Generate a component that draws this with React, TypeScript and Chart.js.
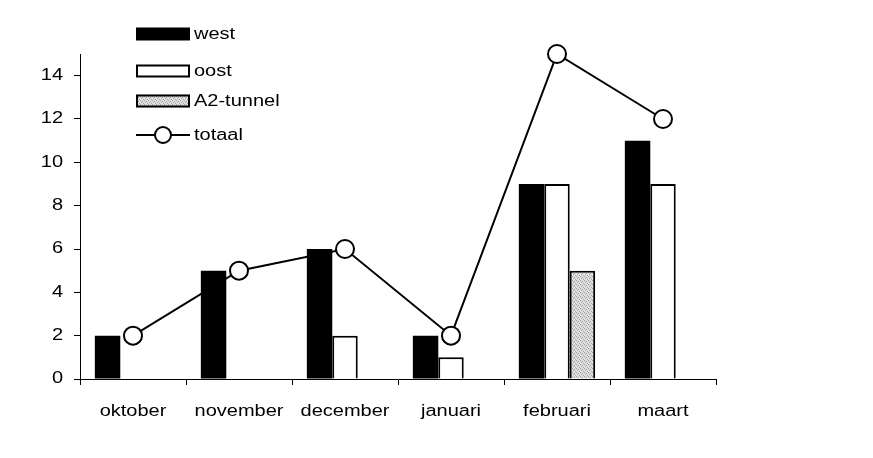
import React, { useEffect, useRef } from "react";
import { Chart, registerables } from "chart.js";

Chart.register(...registerables);

const categories = ["oktober", "november", "december", "januari", "februari", "maart"];
const westValues = [2, 5, 6, 2, 9, 11];
const oostValues = [0, 0, 2, 1, 9, 9];
const tunnelValues = [0, 0, 0, 0, 5, 0];
const totaalValues = [2, 5, 6, 2, 15, 12];
const seriesLabels = ["west", "oost", "A2-tunnel", "totaal"];

const FONT = "'Liberation Sans', Arial, sans-serif";
const TEXT_STRETCH = 1.25;

function makePattern(): CanvasPattern | string {
  const c = document.createElement("canvas");
  c.width = 4;
  c.height = 4;
  const g = c.getContext("2d");
  if (!g) return "#c0c0c0";
  g.fillStyle = "#dcdcdc";
  g.fillRect(0, 0, 4, 4);
  g.fillStyle = "#a0a0a0";
  g.fillRect(0, 0, 1, 1);
  g.fillRect(2, 1, 1, 1);
  g.fillRect(1, 2, 1, 1);
  g.fillRect(3, 3, 1, 1);
  g.fillStyle = "#f0f0f0";
  g.fillRect(2, 3, 1, 1);
  g.fillRect(0, 2, 1, 1);
  const p = g.createPattern(c, "repeat");
  return p || "#c0c0c0";
}

function drawFrame(ctx: CanvasRenderingContext2D, w: number, h: number) {
  ctx.save();
  ctx.setTransform(1, 0, 0, 1, 0, 0);
  ctx.fillStyle = "#000000";
  ctx.fillRect(4, 3, w - 4, 4);
  ctx.fillRect(4, 3, 4, h - 3);
  ctx.restore();
}

export default function App() {
  const ref = useRef<HTMLCanvasElement | null>(null);

  useEffect(() => {
    if (!ref.current) return;
    const pattern = makePattern();

    const ctx0 = ref.current.getContext("2d") as CanvasRenderingContext2D;
    const origFill = ctx0.fillText.bind(ctx0);
    (ctx0 as any).fillText = (text: string, x: number, y: number, maxWidth?: number) => {
      ctx0.save();
      ctx0.translate(x, y);
      ctx0.scale(TEXT_STRETCH, 1);
      if (maxWidth !== undefined) origFill(text, 0, 0, maxWidth / TEXT_STRETCH);
      else origFill(text, 0, 0);
      ctx0.restore();
    };

    const framePlugin = {
      id: "pageFrame",
      beforeDraw(chart: any) {
        drawFrame(chart.ctx, chart.width, chart.height);
      },
      afterDraw(chart: any) {
        drawFrame(chart.ctx, chart.width, chart.height);
      },
    };

    const legendPlugin = {
      id: "customLegend",
      afterDraw(chart: any) {
        const ctx = chart.ctx as CanvasRenderingContext2D;
        const x0 = 136;
        const w = 54;
        const h = 13;
        const ys = [34, 71, 101, 135];
        ctx.save();
        ctx.fillStyle = "#000";
        ctx.fillRect(x0, ys[0] - h / 2, w, h);
        ctx.fillStyle = "#fff";
        ctx.fillRect(x0, ys[1] - h / 2, w, h);
        ctx.lineWidth = 2;
        ctx.strokeStyle = "#000";
        ctx.strokeRect(x0 + 1, ys[1] - h / 2 + 1, w - 2, h - 2);
        ctx.fillStyle = pattern as any;
        ctx.fillRect(x0, ys[2] - h / 2, w, h);
        ctx.strokeRect(x0 + 1, ys[2] - h / 2 + 1, w - 2, h - 2);
        ctx.beginPath();
        ctx.moveTo(x0, ys[3]);
        ctx.lineTo(x0 + w, ys[3]);
        ctx.stroke();
        ctx.beginPath();
        ctx.arc(x0 + w / 2, ys[3], 8, 0, Math.PI * 2);
        ctx.fillStyle = "#fff";
        ctx.fill();
        ctx.stroke();
        ctx.fillStyle = "#000";
        ctx.font = `16px ${FONT}`;
        ctx.textBaseline = "middle";
        ctx.textAlign = "left";
        seriesLabels.forEach((lab, i) => {
          ctx.fillText(lab, 194, ys[i] + 1);
        });
        ctx.restore();
      },
    };

    const chart = new Chart(ref.current, {
      type: "bar",
      data: {
        labels: categories,
        datasets: [
          {
            type: "line",
            label: seriesLabels[3],
            data: totaalValues,
            borderColor: "#000",
            borderWidth: 2,
            pointRadius: 9,
            pointBorderWidth: 2,
            pointBackgroundColor: "#fff",
            pointBorderColor: "#000",
            tension: 0,
            clip: false,
            order: 0,
          } as any,
          {
            label: seriesLabels[0],
            data: westValues,
            backgroundColor: "#000",
            borderColor: "#000",
            borderWidth: 0,
            order: 1,
          },
          {
            label: seriesLabels[1],
            data: oostValues,
            backgroundColor: "#fff",
            borderColor: "#000",
            borderWidth: 2,
            order: 1,
          },
          {
            label: seriesLabels[2],
            data: tunnelValues,
            backgroundColor: pattern as any,
            borderColor: "#000",
            borderWidth: 2,
            order: 1,
          },
        ],
      },
      options: {
        responsive: false,
        animation: false,
        events: [],
        datasets: {
          bar: {
            categoryPercentage: 0.72,
            barPercentage: 1.0,
          },
        },
        layout: { padding: { left: 0, top: 54, right: 157, bottom: 0 } },
        plugins: {
          legend: { display: false },
          tooltip: { enabled: false },
        },
        scales: {
          x: {
            grid: {
              display: true,
              drawOnChartArea: false,
              offset: true,
              tickLength: 6,
              tickColor: "#000",
            },
            border: { display: true, color: "#000", width: 1 },
            ticks: {
              color: "#000",
              font: { family: FONT, size: 16 },
              padding: 17,
              maxRotation: 0,
              autoSkip: false,
            },
            afterFit: (scale: any) => {
              scale.height = 79;
            },
          },
          y: {
            min: 0,
            max: 15,
            grid: {
              display: true,
              drawOnChartArea: false,
              tickLength: 6,
              tickColor: "#000",
            },
            border: { display: true, color: "#000", width: 1 },
            ticks: {
              stepSize: 2,
              includeBounds: false,
              color: "#000",
              font: { family: FONT, size: 16 },
              padding: 11,
            },
            afterFit: (scale: any) => {
              scale.width = 80;
            },
          },
        },
      },
      plugins: [legendPlugin, framePlugin],
    });
    return () => {
      chart.destroy();
      (ctx0 as any).fillText = origFill;
    };
  }, []);

  return (
    <div style={{ position: "relative", width: 873, height: 458, marginLeft: -8, marginTop: -8, background: "#fff" }}>
      <canvas ref={ref} width={873} height={458} style={{ display: "block", position: "absolute", left: 0, top: 0, width: 873, height: 458 }} />
      <div
        style={{
          position: "absolute",
          left: 4,
          top: 3,
          width: 869,
          height: 455,
          boxSizing: "border-box",
          borderTop: "4px solid #000",
          borderLeft: "4px solid #000",
          pointerEvents: "none",
          zIndex: 2,
        }}
      />
    </div>
  );
}
